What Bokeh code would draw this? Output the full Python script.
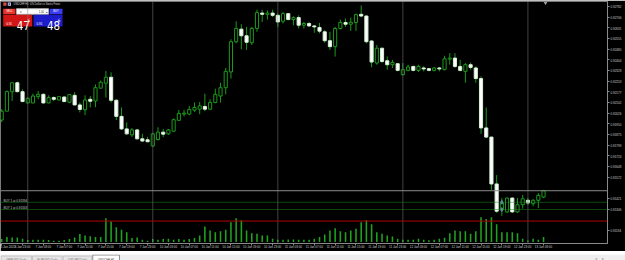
from bokeh.plotting import figure
from bokeh.models import Range1d, FixedTicker, Span, Label, ColumnDataSource, PrintfTickFormatter
from bokeh.layouts import column
from bokeh.embed import file_html
from bokeh.resources import INLINE
from bokeh.core.properties import value

# ---------------- data (USDCHF, H1) ----------------
opens = [0.91977, 0.92040, 0.92178, 0.92241, 0.92178, 0.92098, 0.92098, 0.92143, 0.92159, 0.92098,
         0.92136, 0.92119, 0.92140, 0.92103, 0.92152, 0.92084, 0.92049, 0.92124, 0.92112, 0.92203,
         0.92238, 0.92280, 0.92117, 0.92003, 0.91914, 0.91872, 0.91907, 0.91844, 0.91837, 0.91793,
         0.91839, 0.91891, 0.91879, 0.91898, 0.91975, 0.92019, 0.92019, 0.92047, 0.92054, 0.92073,
         0.92054, 0.92101, 0.92147, 0.92206, 0.92318, 0.92532, 0.92621, 0.92574, 0.92525, 0.92626,
         0.92735, 0.92726, 0.92735, 0.92719, 0.92677, 0.92731, 0.92689, 0.92703, 0.92649, 0.92661,
         0.92644, 0.92633, 0.92602, 0.92539, 0.92497, 0.92626, 0.92668, 0.92656, 0.92668, 0.92726,
         0.92714, 0.92537, 0.92381, 0.92486, 0.92397, 0.92369, 0.92376, 0.92299, 0.92329, 0.92357,
         0.92329, 0.92346, 0.92341, 0.92329, 0.92346, 0.92334, 0.92409, 0.92416, 0.92357, 0.92322,
         0.92369, 0.92346, 0.92271, 0.91921, 0.91856, 0.91524, 0.91340, 0.91326, 0.91424, 0.91326,
         0.91377, 0.91408, 0.91384, 0.91408, 0.91431]
highs = [0.92054, 0.92187, 0.92243, 0.92250, 0.92194, 0.92138, 0.92164, 0.92182, 0.92166, 0.92152,
         0.92145, 0.92145, 0.92145, 0.92159, 0.92175, 0.92101, 0.92152, 0.92147, 0.92229, 0.92257,
         0.92325, 0.92315, 0.92124, 0.92066, 0.91961, 0.91921, 0.91914, 0.91879, 0.91858, 0.91886,
         0.91926, 0.91914, 0.91914, 0.91989, 0.92049, 0.92049, 0.92077, 0.92101, 0.92105, 0.92164,
         0.92124, 0.92199, 0.92241, 0.92346, 0.92549, 0.92677, 0.92656, 0.92637, 0.92637, 0.92759,
         0.92759, 0.92754, 0.92759, 0.92731, 0.92742, 0.92735, 0.92712, 0.92719, 0.92672, 0.92672,
         0.92649, 0.92665, 0.92614, 0.92602, 0.92637, 0.92689, 0.92696, 0.92703, 0.92731, 0.92789,
         0.92719, 0.92544, 0.92509, 0.92490, 0.92427, 0.92404, 0.92381, 0.92381, 0.92369, 0.92362,
         0.92369, 0.92357, 0.92346, 0.92353, 0.92353, 0.92432, 0.92451, 0.92451, 0.92404, 0.92381,
         0.92385, 0.92357, 0.92287, 0.92066, 0.91858, 0.91587, 0.91424, 0.91429, 0.91429, 0.91424,
         0.91447, 0.91424, 0.91417, 0.91459, 0.91482]
lows = [0.91963, 0.92040, 0.92112, 0.92173, 0.92103, 0.92096, 0.92096, 0.92124, 0.92096, 0.92096,
        0.92110, 0.92117, 0.92103, 0.92096, 0.92082, 0.92031, 0.92012, 0.92066, 0.92068, 0.92201,
        0.92136, 0.92101, 0.91977, 0.91907, 0.91872, 0.91858, 0.91837, 0.91823, 0.91820, 0.91788,
        0.91832, 0.91856, 0.91872, 0.91893, 0.91970, 0.92003, 0.92012, 0.92035, 0.92019, 0.92040,
        0.92047, 0.92096, 0.92101, 0.92159, 0.92271, 0.92521, 0.92479, 0.92474, 0.92509, 0.92602,
        0.92672, 0.92689, 0.92707, 0.92637, 0.92661, 0.92684, 0.92649, 0.92626, 0.92626, 0.92637,
        0.92595, 0.92591, 0.92525, 0.92474, 0.92427, 0.92619, 0.92637, 0.92609, 0.92609, 0.92707,
        0.92521, 0.92350, 0.92369, 0.92381, 0.92334, 0.92346, 0.92322, 0.92292, 0.92322, 0.92322,
        0.92318, 0.92322, 0.92322, 0.92322, 0.92322, 0.92329, 0.92369, 0.92346, 0.92322, 0.92241,
        0.92334, 0.92241, 0.91879, 0.91849, 0.91482, 0.91319, 0.91298, 0.91319, 0.91319, 0.91319,
        0.91349, 0.91377, 0.91366, 0.91354, 0.91424]
closes = [0.92040, 0.92178, 0.92241, 0.92178, 0.92108, 0.92131, 0.92147, 0.92159, 0.92098, 0.92136,
          0.92124, 0.92143, 0.92108, 0.92157, 0.92084, 0.92052, 0.92119, 0.92110, 0.92206, 0.92245,
          0.92280, 0.92117, 0.92003, 0.91914, 0.91879, 0.91907, 0.91844, 0.91828, 0.91823, 0.91879,
          0.91891, 0.91877, 0.91907, 0.91979, 0.92024, 0.92026, 0.92052, 0.92066, 0.92077, 0.92054,
          0.92101, 0.92159, 0.92206, 0.92322, 0.92532, 0.92626, 0.92574, 0.92528, 0.92626, 0.92738,
          0.92726, 0.92735, 0.92719, 0.92672, 0.92731, 0.92689, 0.92703, 0.92649, 0.92661, 0.92644,
          0.92637, 0.92607, 0.92539, 0.92497, 0.92626, 0.92668, 0.92656, 0.92670, 0.92724, 0.92714,
          0.92532, 0.92388, 0.92486, 0.92392, 0.92369, 0.92385, 0.92329, 0.92334, 0.92353, 0.92329,
          0.92357, 0.92339, 0.92329, 0.92346, 0.92339, 0.92411, 0.92416, 0.92357, 0.92329, 0.92369,
          0.92350, 0.92271, 0.91921, 0.91856, 0.91524, 0.91331, 0.91389, 0.91424, 0.91326, 0.91377,
          0.91419, 0.91389, 0.91408, 0.91443, 0.91476]
volumes = [450, 750, 700, 700, 500, 300, 350, 350, 350, 300,
           200, 200, 300, 450, 700, 1200, 1000, 860, 750, 750,
           3600, 3100, 2250, 1850, 1500, 600, 700, 350, 200, 450,
           350, 450, 500, 350, 450, 350, 450, 600, 1000, 2350,
           1750, 1500, 1650, 1850, 3000, 3600, 3300, 1750, 1350, 1250,
           1000, 1000, 500, 350, 350, 400, 400, 350, 350, 350,
           500, 750, 1150, 1750, 2100, 1650, 1500, 1750, 2000, 3000,
           3300, 2700, 1500, 1250, 1000, 850, 500, 350, 350, 350,
           500, 350, 250, 350, 500, 650, 1350, 1750, 1650, 1650,
           1250, 1650, 3750, 3500, 3750, 2700, 1500, 1500, 1500, 1350,
           500, 220, 500, 350, 750]

day_start_bars = [5, 29, 53, 77, 101]
time_tick_bars = [0, 4, 8, 12, 16, 20, 24, 28, 32, 36, 40, 44, 48, 52, 56, 60, 64, 68,
                  72, 76, 80, 84, 88, 92, 96, 100, 104]
time_tick_labels = ["6 Jan 2022", "6 Jan 23:00", "7 Jan 03:00", "7 Jan 07:00", "7 Jan 11:00",
                    "7 Jan 15:00", "7 Jan 19:00", "7 Jan 23:00", "10 Jan 03:00", "10 Jan 07:00",
                    "10 Jan 11:00", "10 Jan 15:00", "10 Jan 19:00", "10 Jan 23:00", "11 Jan 03:00",
                    "11 Jan 07:00", "11 Jan 11:00", "11 Jan 15:00", "11 Jan 19:00", "11 Jan 23:00",
                    "12 Jan 03:00", "12 Jan 07:00", "12 Jan 11:00", "12 Jan 15:00", "12 Jan 19:00",
                    "12 Jan 23:00", "13 Jan 03:00"]
price_ticks = [0.92782, 0.92706, 0.92631, 0.92555, 0.92480, 0.92404, 0.92328, 0.92253, 0.92177,
               0.92102, 0.92026, 0.91950, 0.91875, 0.91799, 0.91724, 0.91648, 0.91572, 0.91421,
               0.91346, 0.91194]
bid = 0.91476
ask = 0.91486
entry_bar = 96
entries = [0.91394, 0.91343]
entry_labels = ["BUY 1 at 0.91394", "BUY 1 at 0.91343"]
alert_level = 0.91261
tab_names = ["GBPUSD,Daily", "EURUSD,Daily", "USDJPY,Daily", "USDCHF,H1"]
title_text = "USDCHF,H1:  US Dollar vs Swiss Franc"

# ---------------- layout constants ----------------
FONT = "Liberation Sans"
W = 625
MAIN_H = 251
TAB_H = 260 - MAIN_H
FL, FR, FT, FB = 0, 607, 1, 246
X0, X1 = -0.2303, 116.277
Y0, Y1 = 0.91102, 0.92817
V0, V1 = -225, 36525


def px_x(px):
    return X0 + (px - FL) / (FR - FL) * (X1 - X0)


def px_y(py):
    return Y1 - (py - FT) / (FB - FT) * (Y1 - Y0)


GREEN = "#1a9a1a"

src = ColumnDataSource(dict(
    x=list(range(len(opens))),
    o=opens, h=highs, l=lows, c=closes, v=volumes,
    top=[max(a, b) for a, b in zip(opens, closes)],
    bot=[min(a, b) for a, b in zip(opens, closes)],
    fill=["black" if c >= o else "white" for o, c in zip(opens, closes)],
    line=[GREEN if c >= o else "#d4f0d4" for o, c in zip(opens, closes)],
))

p = figure(width=W, height=MAIN_H, x_range=Range1d(X0, X1), y_range=Range1d(Y0, Y1),
           output_backend="svg", toolbar_location=None, y_axis_location="right",
           min_border_left=FL, min_border_right=W - FR, min_border_top=FT,
           min_border_bottom=MAIN_H - FB)
p.extra_y_ranges = {"vol": Range1d(V0, V1)}
p.background_fill_color = "black"
p.border_fill_color = "black"
p.outline_line_color = "#7a7a7a"
p.xgrid.visible = False
p.ygrid.visible = False

# axes
p.xaxis.ticker = FixedTicker(ticks=time_tick_bars)
p.xaxis.major_label_overrides = {b: t for b, t in zip(time_tick_bars, time_tick_labels)}
p.yaxis.ticker = FixedTicker(ticks=price_ticks)
p.yaxis.formatter = PrintfTickFormatter(format="%.5f")
for ax in (p.xaxis, p.yaxis):
    ax.axis_line_color = "#8a8a8a"
    ax.major_tick_line_color = "#8a8a8a"
    ax.minor_tick_line_color = None
    ax.major_tick_in = 0
    ax.major_tick_out = 2
    ax.major_label_text_font = FONT
    ax.major_label_text_font_size = "3px"
    ax.major_label_text_color = "#cfcfcf"
p.xaxis.major_label_standoff = 0
p.xaxis.major_label_text_align = "left"
p.yaxis.major_label_standoff = 1

# volumes
p.vbar(x="x", top="v", bottom=0, width=0.3, y_range_name="vol", source=src,
       fill_color="#1fa31f", line_color=None)

# period separators
for b in day_start_bars:
    p.add_layout(Span(location=b, dimension="height", line_color="#858585",
                      line_dash="1 1", line_width=1))

# horizontal lines
p.add_layout(Span(location=alert_level, dimension="width", line_color="#b40000", line_width=1))
for e in entries:
    p.add_layout(Span(location=e, dimension="width", line_color="#208a20",
                      line_dash="1 1", line_width=1))
p.add_layout(Span(location=bid, dimension="width", line_color="#8c8c8c", line_width=1))

# candles
p.segment(x0="x", y0="l", x1="x", y1="h", source=src, line_color=GREEN, line_width=1)
p.vbar(x="x", top="top", bottom="bot", width=0.6, source=src,
       fill_color="fill", line_color="line", line_width=1)

# trade entries
p.scatter(x=[entry_bar] * len(entries), y=entries, marker="diamond", size=4,
          fill_color="#90a8d0", line_color="#5a78a8")
p.text(x=[px_x(3)] * len(entries), y=entries, text=entry_labels, text_font=value(FONT),
       text_font_size="3px", text_color="#c8c8c8", text_baseline="bottom", text_align="left")

# chart shift marker
p.scatter(x=[px_x(545)], y=[px_y(2.5)], marker="inverted_triangle", size=4,
          fill_color="#9a9a9a", line_color=None)


# ---------- one-click trading panel and title ----------
def rect(l, t, r, b, color, line=None):
    p.quad(left=[px_x(l)], right=[px_x(r)], top=[px_y(t)], bottom=[px_y(b)],
           fill_color=color, line_color=line)


def txt(x, y, s, size, color, align="left", baseline="middle", font=FONT, style="normal"):
    p.text(x=[px_x(x)], y=[px_y(y)], text=[s], text_font=value(font), text_font_size=size,
           text_color=color, text_align=align, text_baseline=baseline, text_font_style=style)


rect(2.8, 2, 6, 5.2, "#d84a4a")
rect(7.3, 2, 10.5, 5.2, "#d8d8d8")
rect(8, 2.7, 9.8, 4.5, "#3a5ac8")
txt(13, 3.7, title_text, "2.7px", "#d4d4d4")

rect(2.7, 8.3, 15, 14, "#e8352c")
txt(8.9, 11.3, "SELL", "2.6px", "white", align="center")
rect(16, 8.3, 48, 14, "white", line="#b0b0b0")
txt(20.7, 11.3, "\u25BE", "3px", "#404040", align="center")
txt(43.5, 11.3, "1.00", "2.7px", "#202020", align="right")
txt(46, 11.3, "\u25B4", "3px", "#404040", align="center")
rect(49, 8.3, 62, 14, "#3b3bf0")
txt(55.5, 11.3, "BUY", "2.6px", "white", align="center")

NARROW = "Liberation Sans Narrow, DejaVu Sans Condensed, Liberation Sans"
for (l, r, col, pr) in [(2.7, 31.7, "#d21616", bid), (33, 62, "#1c1cca", ask)]:
    s = f"{pr:.5f}"
    rect(l, 14.3, r, 26.4, col)
    txt(l + 3, 23.4, s[:4], "3px", "white", baseline="alphabetic")
    txt(l + 13.5, 25.3, s[4:6], "11.5px", "white", baseline="alphabetic", font=NARROW)
    txt(l + 24.3, 19.5, s[6], "4.5px", "white", baseline="alphabetic", font=NARROW)

# price-axis markers
p.add_layout(Label(x=X1, y=bid, text=f"{bid:.5f}", x_offset=1, text_baseline="middle",
                   text_font=FONT, text_font_size="3px", text_color="black",
                   background_fill_color="#9fb3cf", padding=2))
p.add_layout(Label(x=X1, y=alert_level, text=f"{alert_level:.5f}", x_offset=1,
                   text_baseline="middle", text_font=FONT, text_font_size="3px",
                   text_color="white", background_fill_color="#e00000", padding=2))

# ---------------- tab bar ----------------
t = figure(width=W, height=TAB_H, x_range=Range1d(0, W), y_range=Range1d(TAB_H, 0),
           output_backend="svg", toolbar_location=None, x_axis_type=None, y_axis_type=None,
           min_border_left=0, min_border_right=0, min_border_top=0, min_border_bottom=0)
t.background_fill_color = "#efefef"
t.border_fill_color = "#efefef"
t.outline_line_color = None
t.grid.visible = False
tab_x = [(0.5, 32), (33, 63.5), (64.5, 94), (95, 122.5)]
for i, (name, (a, b)) in enumerate(zip(tab_names, tab_x)):
    active = i == len(tab_names) - 1
    t.quad(left=[a], right=[b], top=[0.5 if active else 1.5], bottom=[TAB_H - 0.5],
           fill_color="white" if active else "#e6e6e6",
           line_color="#8c8c8c" if active else "#c4c4c4", line_width=1)
    t.text(x=[(a + b) / 2], y=[TAB_H / 2 + 0.3], text=[name], text_font=value(FONT),
           text_font_size="3px", text_color="#404040" if active else "#707070",
           text_align="center", text_baseline="middle")
t.text(x=[613, 620], y=[TAB_H / 2] * 2, text=["\u25C2", "\u25B8"], text_font=value(FONT),
       text_font_size="3.5px", text_color="#9a9a9a", text_align="center", text_baseline="middle")

layout = column(p, t, spacing=0)
open("out.html", "w").write(file_html(layout, INLINE))
